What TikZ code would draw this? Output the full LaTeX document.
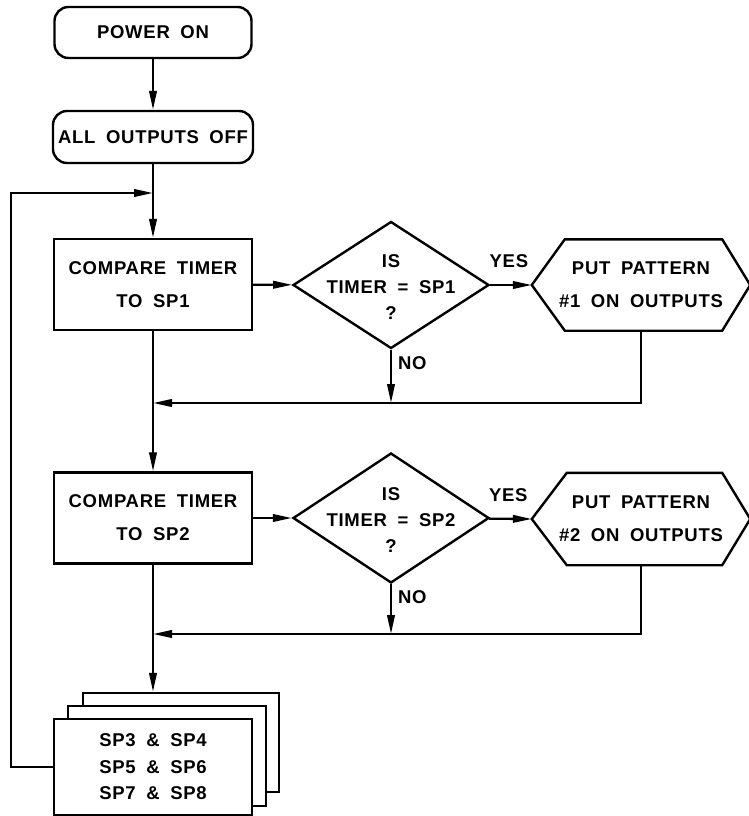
\documentclass[tikz,border=0pt]{standalone}
\usepackage{fontspec}
\setmainfont{Liberation Sans}[LetterSpace=4,WordSpace=1.8]
\usetikzlibrary{shapes.geometric,arrows.meta}
\tikzset{
  txt/.style={font=\fontsize{18.5}{26}\selectfont\bfseries, align=center, inner sep=0pt},
  box/.style={draw, line width=2.4pt, minimum width=198pt, minimum height=91pt, inner sep=0pt, align=center, fill=white, font=\fontsize{18.5}{33}\selectfont\bfseries},
  term/.style={draw, line width=2.4pt, rounded corners=14pt, minimum width=197pt, minimum height=51pt, inner sep=0pt, align=center, font=\fontsize{18.5}{20}\selectfont\bfseries},
  dec/.style={diamond, draw, line width=2.4pt, minimum width=196pt, minimum height=127pt, inner sep=0pt},
  hexbox/.style={minimum width=218pt, minimum height=91pt, inner sep=0pt, align=center, font=\fontsize{18.5}{33}\selectfont\bfseries},
  stackbox/.style={draw, line width=2.4pt, fill=white, inner sep=0pt},
  ln/.style={line width=2.4pt},
  arr/.style={line width=2.3pt, -{Triangle[length=19pt,width=7.5pt]}},
}
\begin{document}
\begin{tikzpicture}[x=1pt,y=-1pt]
\useasboundingbox (0,0) rectangle (749,816);
% terminals
\node[term] (p1) at (153,32.5) {POWER ON};
\node[term, minimum width=200pt, minimum height=52pt] (p2) at (153,137) {ALL OUTPUTS OFF};
\coordinate (j0) at (153,193);
% block 1
\node[box] (c1) at (153,284.5) {COMPARE TIMER\\TO SP1};
\node[dec] (d1) at (391,285) {};
\node[txt] (d1t) at (391,287) {IS\\TIMER = SP1\\?};
\node[hexbox] (h1) at (641,285) {PUT PATTERN\\\#1 ON OUTPUTS};
\draw[ln] (h1.west) -- ([xshift=33pt]h1.north west) -- ([xshift=-28pt]h1.north east) -- (h1.east) -- ([xshift=-28pt]h1.south east) -- ([xshift=33pt]h1.south west) -- cycle;
\coordinate (j1) at (153,403);
% block 2
\node[box] (c2) at (153,518) {COMPARE TIMER\\TO SP2};
\node[dec, minimum height=130pt] (d2) at (391,518) {};
\node[txt] (d2t) at (391,520) {IS\\TIMER = SP2\\?};
\node[hexbox, minimum height=92pt] (h2) at (641,519) {PUT PATTERN\\\#2 ON OUTPUTS};
\draw[ln] (h2.west) -- ([xshift=35pt]h2.north west) -- ([xshift=-28pt]h2.north east) -- (h2.east) -- ([xshift=-28pt]h2.south east) -- ([xshift=35pt]h2.south west) -- cycle;
\coordinate (j2) at (153,634);
% stack
\node[stackbox, minimum width=196pt, minimum height=99pt] (s3) at (181,742.5) {};
\node[stackbox, minimum width=198pt, minimum height=100pt] (s2) at (167,756) {};
\node[stackbox, minimum width=198pt, minimum height=96pt, font=\fontsize{18.5}{26.5}\selectfont\bfseries, align=center] (s1) at (153,767) {SP3 \& SP4\\SP5 \& SP6\\SP7 \& SP8};
% connectors
\draw[arr] (p1) -- (p2);
\draw[arr] (p2) -- (c1);
\draw[arr] (s1.west) -- ++(-42,0) |- (j0);
\draw[arr] (c1) -- (d1);
\draw[arr] (d1) -- node[txt, above=16pt, pos=0.45] (y1) {YES} (h1.west);
\draw[arr] (d1.south) -- node[txt, right=6pt, pos=0.25] (n1) {NO} (d1.south |- j1);
\draw[arr] (h1.south) |- (j1);
\draw[arr] (c1) -- (c2);
\draw[arr] (c2) -- (d2);
\draw[arr] (d2) -- node[txt, above=16pt, pos=0.45] (y2) {YES} (h2.west);
\draw[arr] (d2.south) -- node[txt, right=6pt, pos=0.25] (n2) {NO} (d2.south |- j2);
\draw[arr] (h2.south) |- (j2);
\draw[arr] (c2.south) -- (c2.south |- s3.north);
\end{tikzpicture}
\end{document}
